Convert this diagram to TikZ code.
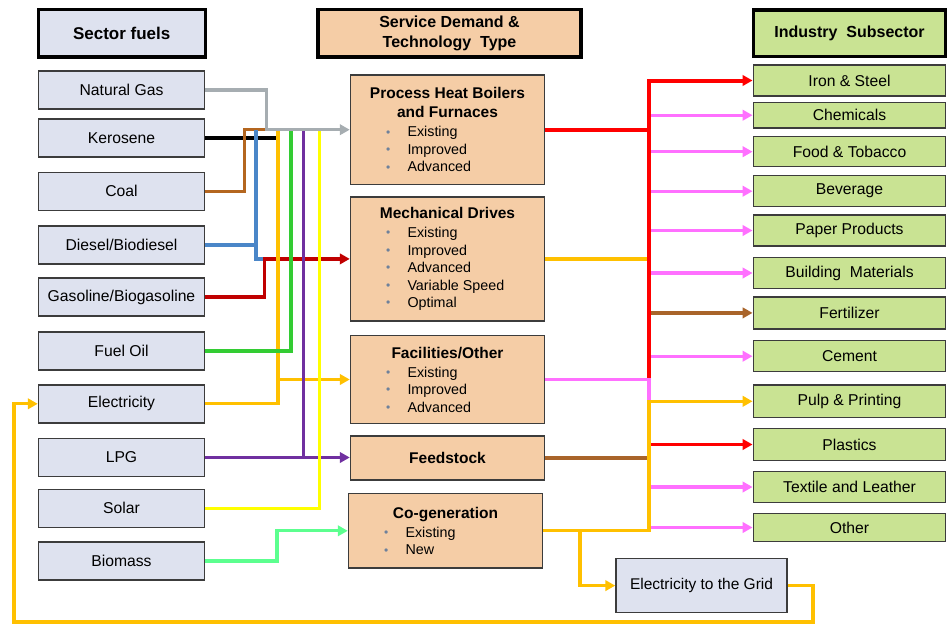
\documentclass[tikz,border=0pt]{standalone}
\usepackage{fontspec}
\setmainfont{Liberation Sans}
\usetikzlibrary{arrows.meta}

% fills and strokes
\definecolor{fuelfill}{HTML}{DEE2EF}
\definecolor{svcfill}{HTML}{F5CDA6}
\definecolor{subfill}{HTML}{C9E393}
\definecolor{boxline}{HTML}{3C3C3C}
\definecolor{bulletc}{HTML}{6E819B}
\definecolor{cGray}{HTML}{A6ADB1}
\definecolor{cBrown}{HTML}{B4661F}
\definecolor{cBlue}{HTML}{4A86C8}
\definecolor{cDarkRed}{HTML}{C00000}
\definecolor{cGreen}{HTML}{33CC33}
\definecolor{cOrange}{HTML}{FFC000}
\definecolor{cPurple}{HTML}{7030A0}
\definecolor{cYellow}{HTML}{FFFF00}
\definecolor{cMint}{HTML}{5CFF8F}
\definecolor{cRed}{HTML}{FF0000}
\definecolor{cPink}{HTML}{FF70FF}
\definecolor{cFeed}{HTML}{A9642A}

% titles and bullet lines inside the service boxes
\newcommand\svctitle[1]{{\fontsize{15.5}{19}\selectfont\bfseries #1\par}}
\newcommand\svcitem[1]{\par\hspace*{35.5pt}\makebox[21.5pt][l]{\raisebox{0.6pt}{\textcolor{bulletc}{\fontsize{12}{12}\selectfont\textbullet}}}#1}
\newcommand\svcbody{\raggedright\fontsize{14.3}{17.5}\selectfont\vspace*{1.5pt}}

\begin{document}
\begin{tikzpicture}[x=1pt,y=-1pt,
  box/.style={draw=boxline, line width=1.5pt, inner sep=0pt, text=black},
  fuel/.style={box, fill=fuelfill, minimum width=166pt, minimum height=38pt,
    font=\fontsize{15.7}{18}\selectfont},
  svc/.style={box, fill=svcfill, minimum width=194pt},
  sub/.style={box, fill=subfill, minimum width=192.4pt,
    font=\fontsize{15.7}{18}\selectfont},
  head/.style={draw=black, line width=3.4pt, inner sep=0pt, align=center},
  link/.style={line width=3.3pt},
  arr/.style={-{Triangle[length=10pt,width=10.5pt]}}]
\useasboundingbox (0,0) rectangle (949,624);

% ---------- column headers ----------
\node[head, fill=fuelfill, minimum width=167pt, minimum height=47.5pt,
  font=\fontsize{17}{20}\selectfont\bfseries] (hfuel) at (121.7,33.3) {Sector fuels};
\node[head, fill=svcfill, minimum width=263pt, minimum height=47.5pt,
  font=\fontsize{16}{20}\selectfont\bfseries] (hsvc) at (449.5,33.3) {Service Demand \&\\Technology\ \ Type};
\node[head, fill=subfill, minimum width=192.4pt, minimum height=46.7pt,
  font=\fontsize{16}{20}\selectfont\bfseries] (hsub) at (849.5,33.3) {Industry\ \ Subsector};

% ---------- sector fuels ----------
\node[fuel] (ng)   at (121.5,90)    {Natural Gas};
\node[fuel] (ker)  at (121.5,138)   {Kerosene};
\node[fuel] (coal) at (121.5,191.3) {Coal};
\node[fuel] (dies) at (121.5,245)   {Diesel/Biodiesel};
\node[fuel] (gas)  at (121.5,297)   {Gasoline/Biogasoline};
\node[fuel] (fo)   at (121.5,351)   {Fuel Oil};
\node[fuel] (elec) at (121.5,403.8) {Electricity};
\node[fuel] (lpg)  at (121.5,457.5) {LPG};
\node[fuel] (sol)  at (121.5,508.3) {Solar};
\node[fuel] (bio)  at (121.5,561)   {Biomass};

% ---------- service demand & technology ----------
\node[svc, minimum height=109.3pt] (proc) at (447.5,129.7) {%
  \begin{minipage}{194pt}\centering
  \svctitle{Process Heat Boilers\\and Furnaces}\svcbody
  \svcitem{Existing}\svcitem{Improved}\svcitem{Advanced}
  \end{minipage}};
\node[svc, minimum height=124pt] (mech) at (447.5,258.9) {%
  \begin{minipage}{194pt}\centering
  \svctitle{Mechanical Drives}\svcbody
  \svcitem{Existing}\svcitem{Improved}\svcitem{Advanced}%
  \svcitem{Variable Speed}\svcitem{Optimal}
  \end{minipage}};
\node[svc, minimum height=88.4pt] (fac) at (447.5,379.5) {%
  \begin{minipage}{194pt}\centering
  \svctitle{Facilities/Other}\svcbody
  \svcitem{Existing}\svcitem{Improved}\svcitem{Advanced}
  \end{minipage}};
\node[svc, minimum height=43.7pt, font=\fontsize{15.5}{19}\selectfont\bfseries]
  (feed) at (447.5,458) {Feedstock};
\node[svc, minimum height=74.3pt] (cogen) at (445.5,530.8) {%
  \begin{minipage}{194pt}\centering
  \svctitle{Co-generation}\svcbody
  \svcitem{Existing}\svcitem{New}
  \end{minipage}};
\node[box, fill=fuelfill, minimum width=171pt, minimum height=54.2pt,
  font=\fontsize{15.5}{18}\selectfont] (grid) at (701.5,585.6) {Electricity to the Grid};

% ---------- industry subsectors ----------
\node[sub, minimum height=31pt]   (iron)  at (849.5,80.5)  {Iron \& Steel};
\node[sub, minimum height=25.7pt] (chem)  at (849.5,115.2) {Chemicals};
\node[sub, minimum height=30pt]   (food)  at (849.5,151.7) {Food \& Tobacco};
\node[sub, minimum height=31pt]   (bev)   at (849.5,191.2) {Beverage};
\node[sub, minimum height=31pt]   (paper) at (849.5,230.5) {Paper Products};
\node[sub, minimum height=30.6pt] (build) at (849.5,273)   {Building\ \ Materials};
\node[sub, minimum height=32.3pt] (fert)  at (849.5,312.9) {Fertilizer};
\node[sub, minimum height=31pt]   (cem)   at (849.5,356.2) {Cement};
\node[sub, minimum height=32.7pt] (pulp)  at (849.5,401.3) {Pulp \& Printing};
\node[sub, minimum height=32.4pt] (plast) at (849.5,444.5) {Plastics};
\node[sub, minimum height=30.6pt] (text)  at (849.5,487)   {Textile and Leather};
\node[sub, minimum height=28.4pt] (oth)   at (849.5,527.5) {Other};

% ---------- routing columns ----------
\coordinate (xCoal)   at (244.5,0);
\coordinate (xBlue)   at (256,0);
\coordinate (xRed)    at (264.5,0);
\coordinate (xGray)   at (266.5,0);
\coordinate (xMint)   at (277,0);
\coordinate (xOrange) at (278,0);
\coordinate (xGreen)  at (291,0);
\coordinate (xPurple) at (303.3,0);
\coordinate (xYellow) at (319.3,0);
\coordinate (bus)     at (649,0);
\coordinate (split)   at (580,0);
\coordinate (loopR)   at (813,622);
\coordinate (loopL)   at (14,622);

% ---------- fuels to services ----------
\draw[link, black] (ker.east) -- (ker.east -| xOrange);
\draw[link, cBrown] (coal.east) -| (xCoal |- proc.west) -- (xGray |- proc.west);
\draw[link, cBlue] (dies.east) -- (dies.east -| xBlue);
\draw[link, cBlue] (xBlue |- proc.west) |- (xRed |- mech.west);
\draw[link, cDarkRed, arr] (gas.east) -| (xRed |- mech.west) -- (mech.west);
\draw[link, cOrange, arr] (xOrange |- fac.west) -- (fac.west);
\draw[link, cPurple, arr] (lpg.east) -- (lpg.east -| feed.west);
\draw[link, cOrange] (elec.east) -| (xOrange |- proc.west);
\draw[link, cGreen] (fo.east) -| (xGreen |- proc.west);
\draw[link, cPurple] (xPurple |- lpg.east) -- (xPurple |- proc.west);
\draw[link, cYellow] (sol.east) -| (xYellow |- proc.west);
\draw[link, cMint, arr] (bio.east) -| (xMint |- cogen.west) -- (cogen.west);
\draw[link, cGray, arr] (ng.east) -| (xGray |- proc.west) -- (proc.west);

% ---------- services to subsectors ----------
\draw[link, cPink, arr] (bus |- chem.west)  -- (chem.west);
\draw[link, cPink, arr] (bus |- food.west)  -- (food.west);
\draw[link, cPink, arr] (bus |- bev.west)   -- (bev.west);
\draw[link, cPink, arr] (bus |- paper.west) -- (paper.west);
\draw[link, cPink, arr] (bus |- build.west) -- (build.west);
\draw[link, cFeed, arr] (bus |- fert.west)  -- (fert.west);
\draw[link, cPink, arr] (bus |- cem.west)   -- (cem.west);
\draw[link, cRed,  arr] (bus |- plast.west) -- (plast.west);
\draw[link, cPink, arr] (bus |- text.west)  -- (text.west);
\draw[link, cPink, arr] (bus |- oth.west)   -- (oth.west);

\draw[link, cOrange] (mech.east) -- (mech.east -| bus);
\draw[link, cFeed] (feed.east) -- (feed.east -| bus);
\draw[line width=4pt, cRed] (proc.east) -- (bus |- proc.east) -- (bus |- fac.east);
\draw[line width=4pt, cRed, arr] (bus |- proc.east) |- (iron.west);
\draw[link, cPink] (fac.east) -- (bus |- fac.east) -- (bus |- pulp.west);
\draw[link, cOrange, arr] (cogen.east) -| (bus |- pulp.west) -- (pulp.west);

% ---------- co-generation to the grid and back ----------
\draw[link, cOrange, arr] (split |- cogen.east) |- (grid.west);
\draw[link, cOrange, arr] (grid.east) -| (loopR) -- (loopL) |- (elec.west);
\end{tikzpicture}
\end{document}
